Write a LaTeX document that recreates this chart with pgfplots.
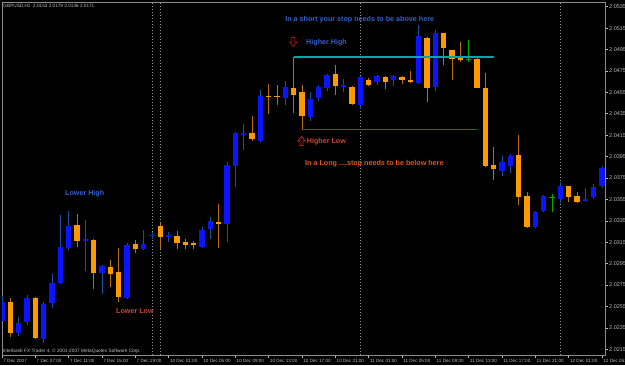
\documentclass[border=0pt]{standalone}
\usepackage{pgfplots}
\pgfplotsset{compat=1.18}
\usepackage{pgfplotstable}
\usepackage{fontspec}
\setmainfont{Liberation Sans}
\definecolor{bullc}{RGB}{10,20,255}
\definecolor{bearc}{RGB}{255,153,0}
\definecolor{bullw}{RGB}{25,80,160}
\definecolor{bearw}{RGB}{185,110,15}
\definecolor{dojig}{RGB}{0,170,0}
\definecolor{tickc}{RGB}{190,190,190}
\definecolor{framec}{RGB}{140,140,140}
\definecolor{annblue}{RGB}{55,95,205}
\definecolor{annred}{RGB}{205,70,45}
\definecolor{annorange}{RGB}{230,85,25}
\definecolor{levelhigh}{RGB}{0,165,165}
\definecolor{levellow}{RGB}{175,45,35}
\definecolor{sepc}{RGB}{150,150,150}
\definecolor{arrdn}{RGB}{160,20,20}
\definecolor{arrup}{RGB}{190,40,40}

\pgfplotstableread{
i o h l c
0 2.0242 2.0265 2.0241 2.0259
2 2.0230 2.0245 2.0228 2.0240
3 2.0241 2.0266 2.0238 2.0263
5 2.0225 2.0259 2.0221 2.0257
6 2.0258 2.0285 2.0254 2.0277
7 2.0277 2.0341 2.0276 2.0311
8 2.0310 2.0344 2.0308 2.0330
10 2.0317 2.0336 2.0288 2.0318
12 2.0286 2.0294 2.0267 2.0293
15 2.0263 2.0314 2.0262 2.0312
17 2.0309 2.0326 2.0308 2.0313
18 2.0321 2.0325 2.0318 2.0322
20 2.0320 2.0325 2.0315 2.0322
24 2.0311 2.0329 2.0310 2.0326
25 2.0327 2.0339 2.0318 2.0335
27 2.0332 2.0390 2.0315 2.0387
28 2.0386 2.0418 2.0367 2.0417
29 2.0416 2.0426 2.0401 2.0417
31 2.0410 2.0457 2.0409 2.0452
34 2.0450 2.0466 2.0443 2.0460
37 2.0432 2.0455 2.0428 2.0449
38 2.0450 2.0462 2.0447 2.0460
39 2.0459 2.0472 2.0456 2.0471
41 2.0461 2.0468 2.0455 2.0462
43 2.0443 2.0470 2.0440 2.0469
45 2.0465 2.0471 2.0462 2.0470
47 2.0467 2.0471 2.0461 2.0470
50 2.0464 2.0518 2.0463 2.0508
52 2.0460 2.0513 2.0456 2.0510
60 2.0382 2.0396 2.0377 2.0390
61 2.0386 2.0397 2.0380 2.0396
64 2.0329 2.0344 2.0328 2.0343
65 2.0344 2.0359 2.0343 2.0358
67 2.0355 2.0371 2.0352 2.0368
70 2.0354 2.0366 2.0353 2.0355
71 2.0357 2.0369 2.0355 2.0367
72 2.0368 2.0386 2.0366 2.0384
}\bull

\pgfplotstableread{
i o h l c
1 2.0259 2.0263 2.0227 2.0230
4 2.0263 2.0264 2.0225 2.0226
9 2.0331 2.0341 2.0311 2.0316
11 2.0317 2.0318 2.0271 2.0286
13 2.0292 2.0298 2.0273 2.0285
14 2.0287 2.0310 2.0259 2.0264
16 2.0313 2.0317 2.0305 2.0309
19 2.0330 2.0333 2.0309 2.0320
21 2.0321 2.0326 2.0309 2.0314
22 2.0315 2.0318 2.0309 2.0313
23 2.0314 2.0316 2.0309 2.0312
26 2.0334 2.0351 2.0310 2.0333
30 2.0417 2.0433 2.0410 2.0411
32 2.0452 2.0463 2.0435 2.0451
33 2.0452 2.0462 2.0443 2.0451
35 2.0459 2.0488 2.0436 2.0453
36 2.0455 2.0462 2.0420 2.0433
40 2.0472 2.0481 2.0453 2.0461
42 2.0460 2.0461 2.0443 2.0444
44 2.0467 2.0468 2.0461 2.0462
46 2.0469 2.0470 2.0458 2.0465
48 2.0469 2.0470 2.0463 2.0467
49 2.0467 2.0475 2.0464 2.0465
51 2.0506 2.0507 2.0446 2.0459
53 2.0510 2.0511 2.0481 2.0496
54 2.0495 2.0495 2.0467 2.0486
55 2.0487 2.0502 2.0483 2.0486
57 2.0486 2.0487 2.0459 2.0459
58 2.0459 2.0473 2.0385 2.0386
59 2.0387 2.0404 2.0373 2.0383
62 2.0397 2.0415 2.0350 2.0357
63 2.0358 2.0362 2.0328 2.0329
68 2.0368 2.0368 2.0353 2.0357
69 2.0358 2.0362 2.0352 2.0353
}\bear

\pgfplotstableread{
i o h l c
56 2.0486 2.0504 2.0483 2.0486
66 2.0357 2.0360 2.0343 2.0357
}\doji

\pgfplotsset{
  wick/.style={draw=none, mark=none, forget plot, error bars/.cd, y dir=both, y explicit, error mark=none, error bar style={draw=#1, line width=1bp, solid}},
  body/.style={draw=none, mark=none, forget plot, error bars/.cd, y dir=both, y explicit, error mark=none, error bar style={draw=#1, line width=5.3bp, line cap=butt, solid}},
}

\begin{document}
\begin{tikzpicture}[x=1bp,y=1bp]
\fill[black] (0,0) rectangle (625,365);
\begin{axis}[
  at={(2bp,10bp)}, anchor=south west,
  width=603bp, height=353bp, scale only axis,
  xmin=0, xmax=72.36, ymin=2.02097, ymax=2.05394,
  axis background/.style={fill=black},
  axis line style={framec, line width=0.6bp},
  tick style={tickc, line width=0.6bp},
  tick align=outside, major tick length=3bp,
  xtick pos=left, ytick pos=right, yticklabel pos=right,
  xtick={0,4,...,72},
  xticklabels={7 Dec 2007,7 Dec 07:00,7 Dec 11:00,7 Dec 15:00,7 Dec 19:00,10 Dec 01:00,10 Dec 05:00,10 Dec 09:00,10 Dec 13:00,10 Dec 17:00,10 Dec 21:00,11 Dec 01:00,11 Dec 05:00,11 Dec 09:00,11 Dec 13:00,11 Dec 17:00,11 Dec 21:00,12 Dec 01:00,12 Dec 05:00},
  ytick={2.0215,2.0235,2.0255,2.0275,2.0295,2.0315,2.0335,2.0355,2.0375,2.0395,2.0415,2.0435,2.0455,2.0475,2.0495,2.0515,2.0535},
  yticklabels={2.0215,2.0235,2.0255,2.0275,2.0295,2.0315,2.0335,2.0355,2.0375,2.0395,2.0415,2.0435,2.0455,2.0475,2.0495,2.0515,2.0535},
  xticklabel style={font=\fontsize{4.6}{5}\selectfont, text=tickc, anchor=west, inner sep=0pt, xshift=1.2bp, yshift=-2.5bp},
  yticklabel style={font=\fontsize{5.5}{6}\selectfont, text=tickc, anchor=west, inner sep=0pt, xshift=1bp},
]
% day separators
\addplot[color=sepc, line width=0.6bp, dash pattern=on 1bp off 2bp, forget plot] coordinates {(18,2.02097) (18,2.05394)};
\addplot[color=sepc, line width=0.6bp, dash pattern=on 1bp off 2bp, forget plot] coordinates {(19,2.02097) (19,2.05394)};
\addplot[color=sepc, line width=0.6bp, dash pattern=on 1bp off 2bp, forget plot] coordinates {(43,2.02097) (43,2.05394)};
\addplot[color=sepc, line width=0.6bp, dash pattern=on 1bp off 2bp, forget plot] coordinates {(67,2.02097) (67,2.05394)};
% wicks
\addplot[wick=bullw] table[x=i, y expr={(\thisrow{h}+\thisrow{l})/2}, y error expr={(\thisrow{h}-\thisrow{l})/2}] {\bull};
\addplot[wick=bearw] table[x=i, y expr={(\thisrow{h}+\thisrow{l})/2}, y error expr={(\thisrow{h}-\thisrow{l})/2}] {\bear};
\addplot[wick=dojig] table[x=i, y expr={(\thisrow{h}+\thisrow{l})/2}, y error expr={(\thisrow{h}-\thisrow{l})/2}] {\doji};
% bodies
\addplot[body=bullc] table[x=i, y expr={(\thisrow{o}+\thisrow{c})/2}, y error expr={max(abs(\thisrow{o}-\thisrow{c})/2,0.00006)}] {\bull};
\addplot[body=bearc] table[x=i, y expr={(\thisrow{o}+\thisrow{c})/2}, y error expr={max(abs(\thisrow{o}-\thisrow{c})/2,0.00006)}] {\bear};
\addplot[body=dojig] table[x=i, y expr={(\thisrow{o}+\thisrow{c})/2}, y error expr={max(abs(\thisrow{o}-\thisrow{c})/2,0.00006)}] {\doji};
% drawn levels (trend-line objects)
\draw[levelhigh, line width=1.2bp] (axis cs:35,2.0488) -- (axis cs:59,2.0488);
\draw[levellow, line width=1.2bp] (axis cs:36,2.0420) -- (axis cs:57,2.0420);
\end{axis}
% annotations
\node[text=tickc, font=\fontsize{4.7}{5}\selectfont, anchor=west, inner sep=0pt] at (3.3,359.3) {GBPUSD,H1\ \ 2.0153 2.0179 2.0146 2.0171};
\node[text=tickc, font=\fontsize{4.8}{5}\selectfont, anchor=west, inner sep=0pt] at (2.7,13.3) {Interbank FX Trader 4, © 2001-2007 MetaQuotes Software Corp.};
\node[text=annblue, font=\bfseries\fontsize{7.2}{8}\selectfont, inner sep=0pt] at (359.7,345) {In a short your stop needs to be above here};
\node[text=annblue, font=\bfseries\fontsize{7.2}{8}\selectfont, anchor=west, inner sep=0pt] at (306,322.3) {Higher High};
\draw[arrdn, line width=0.8bp, line join=miter] (291.8,327.5) -- (294.8,327.5) -- (294.8,323) -- (297,323) -- (293.3,318.5) -- (289.6,323) -- (291.8,323) -- cycle;
\draw[arrup, line width=0.8bp, line join=miter] (300,219.5) -- (303,219.5) -- (303,224) -- (305.2,224) -- (301.5,228.5) -- (297.8,224) -- (300,224) -- cycle;
\node[text=annred, font=\bfseries\fontsize{7.2}{8}\selectfont, anchor=west, inner sep=0pt] at (306.7,223) {Higher Low};
\node[text=annorange, font=\bfseries\fontsize{7.2}{8}\selectfont, anchor=west, inner sep=0pt] at (305,201.3) {In a Long ....stop needs to be below here};
\node[text=annblue, font=\bfseries\fontsize{7.2}{8}\selectfont, anchor=west, inner sep=0pt] at (65,171.3) {Lower High};
\node[text=annred, font=\bfseries\fontsize{7.2}{8}\selectfont, anchor=west, inner sep=0pt] at (116,54) {Lower Low};
\pgfresetboundingbox
\useasboundingbox (0,0) rectangle (625,365);
\end{tikzpicture}
\end{document}
